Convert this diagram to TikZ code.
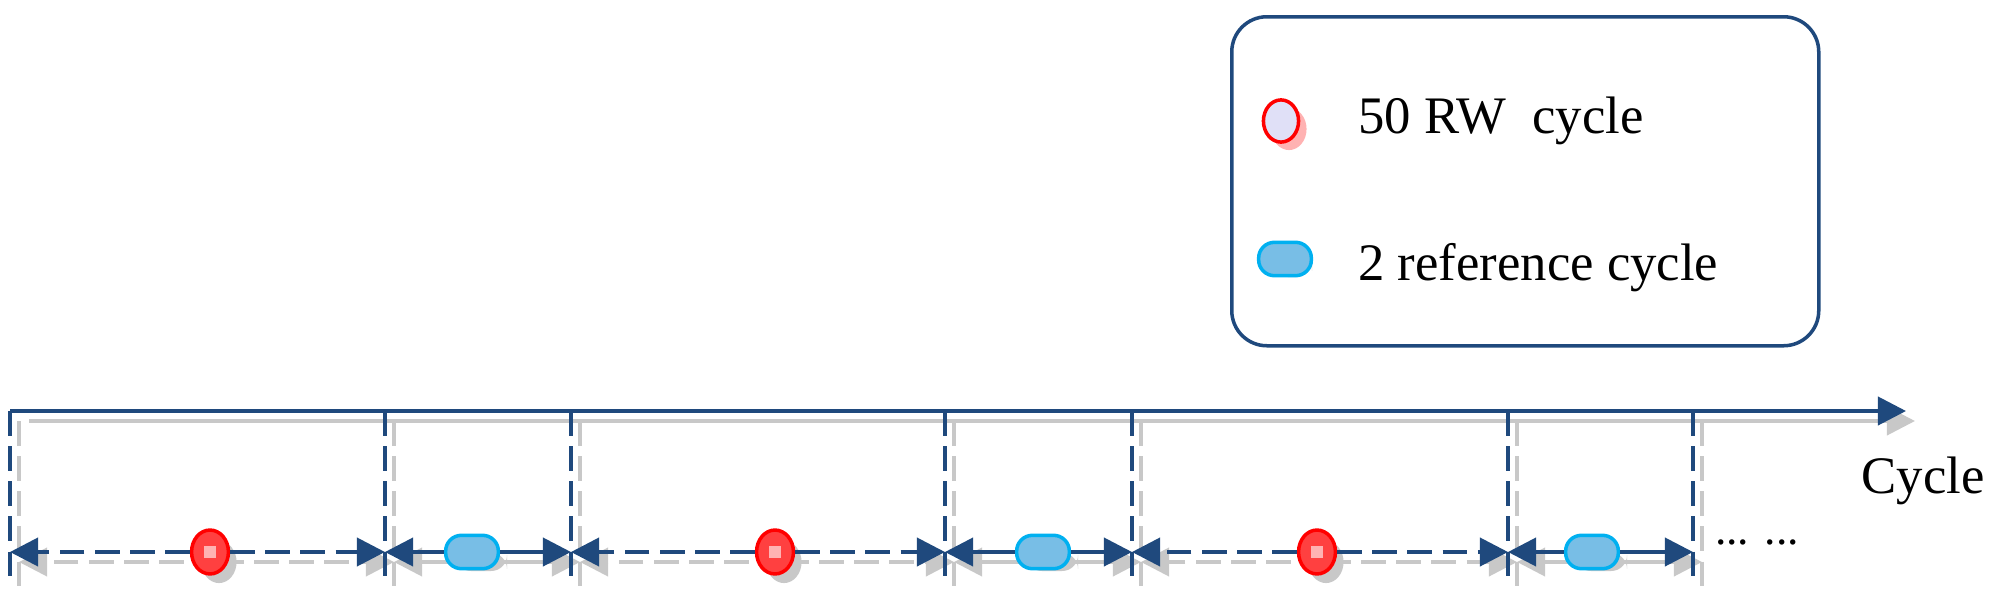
\documentclass[tikz,border=0pt]{standalone}
\usepackage{fontspec}
\setmainfont{Liberation Serif}
\usetikzlibrary{arrows.meta,shapes.geometric}
\definecolor{dblue}{RGB}{31,73,125}
\definecolor{shad}{RGB}{200,200,200}
\definecolor{cyanb}{RGB}{0,176,240}
\definecolor{pillf}{RGB}{120,190,230}
\begin{document}
\begin{tikzpicture}[x=0.02cm,y=-0.02cm,
  ax/.style={line width=2.2pt,draw=dblue},
  vd/.style={line width=2pt,draw=dblue,dash pattern=on 14pt off 6pt},
  arr/.style={line width=2.2pt,draw=dblue,-{Triangle[length=16pt,width=16pt]}},
  sarr/.style={line width=2.2pt,draw=shad,-{Triangle[length=16pt,width=16pt,fill=shad]}},
  txt/.style={font=\fontsize{30}{34}\selectfont,anchor=west,inner sep=0pt},
  redm/.style={ellipse,minimum width=21pt,minimum height=25pt,draw=red,line width=2pt,fill=red!75!white,inner sep=0pt},
  pill/.style={rounded corners=9pt,minimum width=30pt,minimum height=19pt,draw=cyanb,line width=2pt,fill=pillf,inner sep=0pt}
]
\useasboundingbox (0,0) rectangle (1989,595);
% legend
\node[draw=dblue,line width=2pt,rounded corners=20pt,minimum width=587*0.02cm,minimum height=329*0.02cm,anchor=north west] (leg) at (1230,15) {};
\fill[red!30] (1289,129) ellipse (10pt and 12pt);
\node[ellipse,minimum width=20pt,minimum height=24pt,draw=red,line width=2pt,fill=gray!40!blue!15,inner sep=0pt] (lr) at (1281,121) {};
\node[txt] (t1) at (1358,121) {50 RW\ \ cycle};
\fill[shad,rounded corners=9pt] (1272,255) rectangle (1312,277);
\node[pill] (lp) at (1285,259) {};
\node[txt] (t2) at (1358,268) {2 reference cycle};
% shadows
\begin{scope}[shift={(9,10)}]
 \draw[sarr] (20,411) -- (1906,411);
 \foreach \x in {10,385,571,945,1132,1508,1693}
   \draw[line width=2pt,shad,dash pattern=on 14pt off 6pt] (\x,411) -- (\x,580);
 \foreach \a/\b/\m in {10/385/210,571/945/775,1132/1508/1317}{
   \draw[sarr,dash pattern=on 14pt off 6pt] (\m,552) -- (\a,552);
   \draw[sarr,dash pattern=on 14pt off 6pt] (\m,552) -- (\b,552);
   \fill[shad] (\m,552) ellipse (10pt and 12pt);}
 \foreach \a/\b/\m in {385/571/472,945/1132/1043,1508/1693/1592}{
   \draw[sarr] (\m,552) -- (\a,552);
   \draw[sarr] (\m,552) -- (\b,552);
   \fill[shad,rounded corners=9pt] (\m-26,543) rectangle (\m+26,561);}
\end{scope}
% axis
\coordinate (o) at (10,411);
\coordinate (e) at (1906,411);
\draw[ax,-{Triangle[length=16pt,width=16pt]}] (o) -- (e);
\foreach \x in {10,385,571,945,1132,1508,1693}
  \draw[vd] (\x,411) -- (\x,580);
\node[font=\fontsize{30}{34}\selectfont,anchor=east,inner sep=0pt] (cyc) at (1985,481) {Cycle};
\node[font=\fontsize{26}{30}\selectfont] (dots) at (1757,542) {... ...};
% red segments
\foreach \a/\b/\m/\n in {10/385/210/r1,571/945/775/r2,1132/1508/1317/r3}{
  \node[redm] (\n) at (\m,552) {};
  \fill[white,opacity=0.6] (\m-6,546) rectangle (\m+6,558);
  \coordinate (\n a) at (\a,552); \coordinate (\n b) at (\b,552);
  \draw[arr,dash pattern=on 14pt off 6pt] (\n.west) -- (\n a);
  \draw[arr,dash pattern=on 14pt off 6pt] (\n.east) -- (\n b);}
% blue segments
\foreach \a/\b/\m/\n in {385/571/472/p1,945/1132/1043/p2,1508/1693/1592/p3}{
  \node[pill] (\n) at (\m,552) {};
  \coordinate (\n a) at (\a,552); \coordinate (\n b) at (\b,552);
  \draw[arr] (\n.west) -- (\n a);
  \draw[arr] (\n.east) -- (\n b);}
\end{tikzpicture}
\end{document}
